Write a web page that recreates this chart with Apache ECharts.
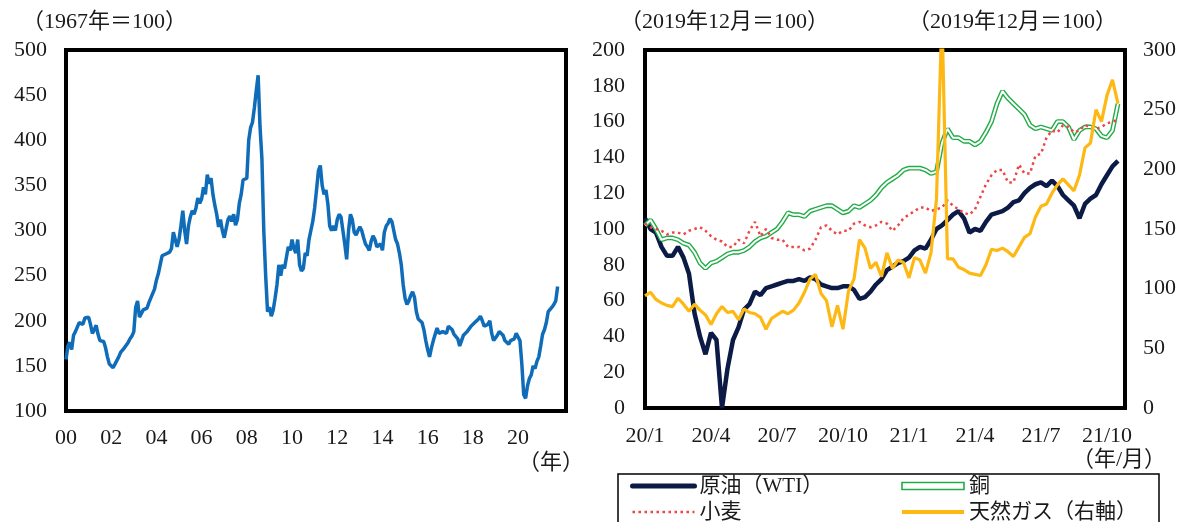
<!DOCTYPE html>
<html>
<head>
<meta charset="utf-8">
<script src="https://cdn.jsdelivr.net/npm/echarts@6/dist/echarts.min.js"></script>
<style>
  html, body { margin: 0; padding: 0; background: #fff; }
  #chart { width: 1180px; height: 522px; }
</style>
</head>
<body>
<div id="chart"></div>
<script>
// ---- Commodity price index (1967 = 100), monthly from Jan 2000 ----
const indexStartYear = 2000;
const commodityIndex = [
  157, 172, 176, 168, 184, 188, 186, 198, 200, 196, 203, 201, // 2000
  204, 196, 186, 190, 195, 185, 178, 176, 177, 170, 160, 152, // 2001
  150, 148, 152, 150, 160, 165, 166, 170, 172, 176, 180, 183, // 2002
  188, 215, 222, 204, 206, 212, 210, 214, 220, 222, 230, 235, // 2003
  245, 252, 262, 272, 270, 274, 272, 276, 280, 298, 290, 282, // 2004
  290, 305, 322, 300, 285, 305, 315, 322, 318, 325, 336, 330, // 2005
  335, 348, 340, 362, 352, 358, 340, 328, 318, 304, 312, 300, // 2006
  292, 302, 312, 316, 310, 318, 306, 312, 330, 340, 356, 358, // 2007
  358, 400, 414, 420, 436, 455, 472, 415, 380, 300, 250, 210, // 2008
  215, 205, 212, 225, 240, 262, 250, 262, 258, 270, 282, 278, // 2009
  290, 280, 275, 290, 262, 255, 258, 275, 272, 290, 300, 310, // 2010
  325, 345, 366, 372, 350, 340, 345, 330, 305, 300, 305, 300, // 2011
  312, 318, 315, 300, 285, 268, 300, 318, 312, 298, 295, 300, // 2012
  304, 300, 292, 285, 282, 278, 288, 294, 290, 282, 280, 285, // 2013
  278, 298, 305, 308, 313, 310, 300, 290, 285, 275, 262, 240, // 2014
  225, 218, 222, 228, 232, 226, 210, 202, 200, 198, 190, 178, // 2015
  168, 160, 170, 178, 185, 192, 186, 184, 188, 190, 186, 194, // 2016
  192, 190, 185, 186, 180, 172, 178, 184, 186, 188, 190, 194, // 2017
  196, 198, 196, 202, 205, 200, 194, 192, 196, 200, 186, 178, // 2018
  180, 184, 188, 190, 184, 178, 180, 174, 178, 176, 180, 186, // 2019
  186, 178, 152, 118, 114, 128, 136, 140, 150, 147, 155, 160, // 2020
  172, 185, 190, 198, 210, 212, 215, 218, 222, 238            // 2021
];

// ---- Individual commodities (Dec 2019 = 100), roughly weekly from Jan 2020 ----
// one value every quarter of a month, starting at 2020/1
const stepMonths = 0.25;
const wtiValues = [
  106, 100, 98, 90, 85, 85, 90, 84, 75, 53, 40, 30, 42, 38, 0, 22,
  38, 45, 55, 58, 65, 63, 67, 68, 69, 70, 71, 71, 72, 71, 73, 72,
  69, 68, 67, 67, 68, 68, 66, 61, 62, 65, 69, 72, 77, 79, 81, 82,
  84, 88, 90, 89, 94, 100, 102, 105, 108, 110, 106, 98, 100, 99, 104, 108,
  109, 110, 112, 115, 116, 120, 123, 125, 126, 124, 127, 124, 119, 116, 113, 106,
  114, 117, 119, 125, 130, 135, 138
];
const copperValues = [
  102, 105, 100, 94, 95, 95, 94, 92, 91, 87, 81, 78, 81, 82, 84, 86,
  87, 87, 88, 90, 93, 95, 96, 98, 100, 104, 109, 108, 108, 107, 110, 111,
  112, 113, 113, 111, 109, 110, 113, 112, 114, 116, 119, 123, 126, 128, 130, 133,
  134, 134, 134, 133, 131, 132, 148, 156, 151, 151, 149, 149, 147, 149, 154, 160,
  170, 177, 173, 170, 167, 164, 158, 156, 157, 156, 155, 160, 160, 157, 150, 155,
  157, 157, 156, 152, 151, 155, 170
];
const wheatValues = [
  103, 101, 100, 99, 97, 98, 98, 97, 99, 100, 101, 99, 96, 94, 93, 90,
  90, 94, 92, 99, 104, 96, 100, 95, 94, 94, 90, 90, 90, 88, 89, 94,
  101, 102, 99, 97, 99, 99, 103, 104, 102, 101, 102, 104, 103, 99, 102, 106,
  108, 110, 112, 112, 110, 111, 112, 116, 113, 111, 109, 108, 111, 118, 125, 130,
  133, 133, 126, 126, 136, 131, 131, 141, 142, 151, 155, 154, 158, 157, 154, 155,
  158, 157, 156, 157, 159, 160, 161
];
// natural gas is read on the right-hand axis
const gasValues = [
  94, 97, 91, 88, 86, 85, 92, 87, 81, 87, 82, 78, 70, 79, 85, 80,
  81, 74, 83, 80, 79, 76, 66, 75, 78, 81, 79, 82, 88, 97, 108, 112,
  96, 90, 68, 86, 66, 98, 108, 141, 134, 117, 122, 110, 130, 117, 124, 122,
  109, 126, 124, 113, 130, 175, 330, 125, 125, 118, 116, 113, 112, 111, 120, 133,
  132, 134, 131, 127, 135, 143, 146, 160, 169, 171, 180, 187, 192, 187, 182, 195,
  218, 222, 250, 240, 262, 275, 255
];

const FONT = "'Liberation Serif', 'Noto Sans CJK JP', serif";
const FS = 22;
const TEXT = '#1a1a1a';

const toYearPoints = arr => arr.map((v, i) => [i / 12, v]);
const toMonthPoints = arr => arr.map((v, i) => [i * stepMonths, v]);

const monthLabel = m => {
  const y = indexStartYear + 20 + Math.floor(m / 12);
  return (y % 100) + '/' + ((m % 12) + 1);
};

const labelStyle = (margin) => ({ fontFamily: FONT, fontSize: FS, color: TEXT, margin });
const hidden = { axisLine: { show: false }, axisTick: { show: false }, splitLine: { show: false } };

const legendBase = {
  orient: 'vertical', top: 475, height: 80, padding: 0, itemGap: 4,
  itemWidth: 62, itemHeight: 7,
  itemStyle: { opacity: 0 },
  textStyle: { fontFamily: FONT, fontSize: 21, lineHeight: 22, color: TEXT }
};

const chart = echarts.init(document.getElementById('chart'), null, { renderer: 'canvas' });

chart.setOption({
  animation: false,
  backgroundColor: '#fff',
  grid: [
    { left: 66, top: 50, width: 500, height: 361, show: true, borderColor: '#000', borderWidth: 4, backgroundColor: 'transparent' },
    { left: 645, top: 50, width: 480, height: 358, show: true, borderColor: '#000', borderWidth: 4, backgroundColor: 'transparent' }
  ],
  xAxis: [
    Object.assign({
      gridIndex: 0, type: 'value', min: 0, max: 22.12, interval: 2,
      axisLabel: Object.assign(labelStyle(16), {
        formatter: v => (v > 20 ? '' : String(v).padStart(2, '0'))
      })
    }, hidden),
    Object.assign({
      gridIndex: 1, type: 'value', min: 0, max: 21.82, interval: 3,
      axisLabel: Object.assign(labelStyle(17), { formatter: v => monthLabel(v) })
    }, hidden)
  ],
  yAxis: [
    Object.assign({ gridIndex: 0, type: 'value', min: 100, max: 500, interval: 50, axisLabel: labelStyle(19) }, hidden),
    Object.assign({ gridIndex: 1, type: 'value', min: 0, max: 200, interval: 20, axisLabel: labelStyle(20) }, hidden),
    Object.assign({ gridIndex: 1, type: 'value', min: 0, max: 300, interval: 50, position: 'right', axisLabel: labelStyle(18) }, hidden)
  ],
  legend: [
    Object.assign({}, legendBase, {
      left: 630,
      data: [
        { name: '原油（WTI）', lineStyle: { width: 5, cap: 'round' } },
        { name: '小麦', lineStyle: { width: 2.5 } }
      ]
    }),
    Object.assign({}, legendBase, {
      left: 900,
      data: [
        { name: '銅', icon: 'rect', itemStyle: { color: '#fff', borderColor: '#22ac48', borderWidth: 1.6, opacity: 1 } },
        { name: '天然ガス（右軸）', lineStyle: { width: 4 } }
      ]
    })
  ],
  series: [
    {
      name: '総合指数', type: 'line', xAxisIndex: 0, yAxisIndex: 0,
      data: toYearPoints(commodityIndex), symbol: 'none',
      lineStyle: { color: '#0f6cb8', width: 3.5 }
    },
    {
      name: '原油（WTI）', type: 'line', xAxisIndex: 1, yAxisIndex: 1,
      data: toMonthPoints(wtiValues), symbol: 'none',
      itemStyle: { color: '#0b1b46' },
      lineStyle: { color: '#0b1b46', width: 4.5 }
    },
    {
      name: '銅', type: 'line', xAxisIndex: 1, yAxisIndex: 1,
      data: toMonthPoints(copperValues), symbol: 'none',
      itemStyle: { color: '#22ac48' },
      lineStyle: { color: '#22ac48', width: 4.8 }
    },
    {
      name: '銅（芯）', type: 'line', xAxisIndex: 1, yAxisIndex: 1,
      data: toMonthPoints(copperValues), symbol: 'none',
      lineStyle: { color: '#fff', width: 2 }
    },
    {
      name: '小麦', type: 'line', xAxisIndex: 1, yAxisIndex: 1,
      data: toMonthPoints(wheatValues), symbol: 'none',
      itemStyle: { color: '#ef4444' },
      lineStyle: { color: '#ef4444', width: 2.5, type: [2.5, 3.5] }
    },
    {
      name: '天然ガス（右軸）', type: 'line', xAxisIndex: 1, yAxisIndex: 2,
      data: toMonthPoints(gasValues), symbol: 'none',
      itemStyle: { color: '#fdb813' },
      lineStyle: { color: '#fdb813', width: 3.2 }
    }
  ],
  graphic: [
    { type: 'text', left: 22, top: 11, style: { text: '（1967年＝100）', font: FS + 'px ' + FONT, fill: TEXT } },
    { type: 'text', left: 620, top: 11, style: { text: '（2019年12月＝100）', font: FS + 'px ' + FONT, fill: TEXT } },
    { type: 'text', left: 908, top: 11, style: { text: '（2019年12月＝100）', font: FS + 'px ' + FONT, fill: TEXT } },
    { type: 'text', left: 518, top: 452, style: { text: '（年）', font: FS + 'px ' + FONT, fill: TEXT } },
    { type: 'text', left: 1072, top: 449, style: { text: '（年/月）', font: FS + 'px ' + FONT, fill: TEXT } },
    {
      type: 'rect', shape: { x: 618, y: 474, width: 541, height: 70 },
      style: { fill: 'none', stroke: '#000', lineWidth: 1.5 }, silent: true
    }
  ]
});
</script>
</body>
</html>
